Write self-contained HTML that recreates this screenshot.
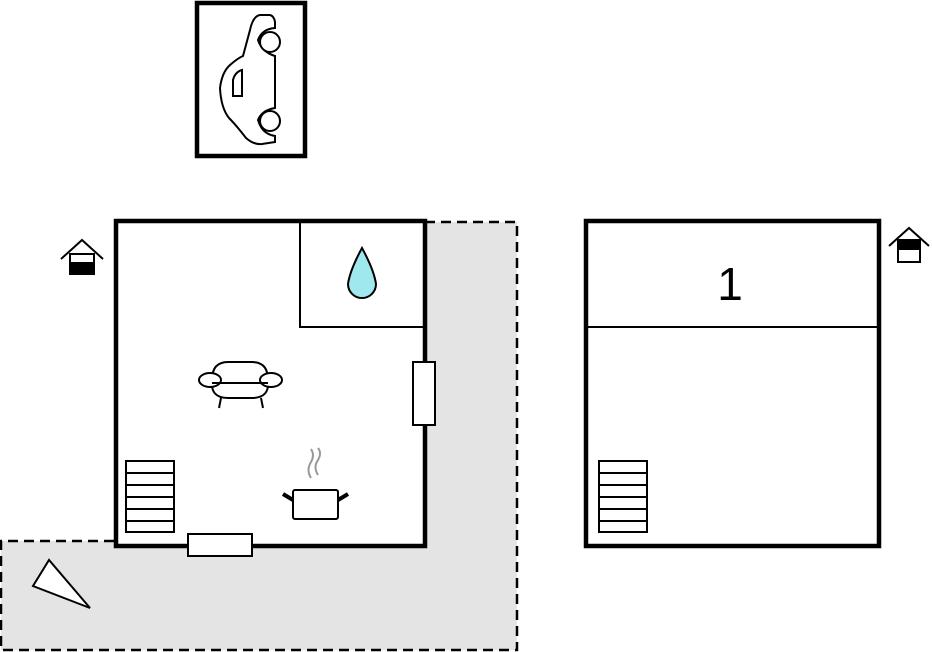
<!DOCTYPE html>
<html><head><style>body{margin:0;background:#fff}svg{display:block}</style></head><body>
<svg width="932" height="652" viewBox="0 0 932 652" xmlns="http://www.w3.org/2000/svg">
<rect width="932" height="652" fill="#fff"/>
<!-- terrace -->
<path d="M425,222 H517 V650 H1 V541 H116" fill="#e4e4e4" stroke="#000" stroke-width="2.5" stroke-dasharray="10,6"/>
<rect x="116" y="221" width="309" height="325" fill="#fff"/>
<polygon points="33,586 49,560 90,608" fill="#fff" stroke="#000" stroke-width="2"/>
<!-- car -->
<rect x="197" y="3" width="108" height="153" fill="#fff" stroke="#000" stroke-width="4.5"/>
<path d="M260,15 H270 Q274,16 275,22 V28 Q262,29 258,40 Q262,52 275,56 V108 Q262,110 258,120 Q262,134 275,136 V142 L262,144 Q254,145 246,138 Q236,125 229,118 Q221,108 220,88 Q222,72 230,65 Q238,58 243,56 L250,30 Q253,16 260,15 Z" fill="#fff" stroke="#000" stroke-width="2"/>
<circle cx="270" cy="42" r="10" fill="#fff" stroke="#000" stroke-width="2"/>
<circle cx="270" cy="121" r="10" fill="#fff" stroke="#000" stroke-width="2"/>
<path d="M233,96 V80 Q235,72 242,70 V96 Z" fill="#fff" stroke="#000" stroke-width="2"/>
<!-- left house -->
<rect x="116" y="221" width="309" height="325" fill="none" stroke="#000" stroke-width="4.5"/>
<path d="M300,221 V327 H425" fill="none" stroke="#000" stroke-width="2"/>
<path d="M362,248 Q350,270 348,284 A14,14 0 0 0 376,284 Q374,270 362,248 Z" fill="#9ee8ee" stroke="#000" stroke-width="2"/>
<rect x="413" y="362" width="22" height="63" fill="#fff" stroke="#000" stroke-width="2"/>
<rect x="188" y="534" width="64" height="22" fill="#fff" stroke="#000" stroke-width="2"/>
<!-- stairs -->
<g fill="#fff" stroke="#000" stroke-width="2">
<rect x="126" y="461" width="48" height="71"/>
<path d="M126,473 H174 M126,485 H174 M126,497 H174 M126,509 H174 M126,521 H174"/>
</g>
<!-- sofa -->
<g fill="#fff" stroke="#000" stroke-width="2">
<path d="M212,380 Q212,362 228,362 H252 Q268,362 268,380"/>
<path d="M212,380 Q210,398 228,398 H252 Q270,398 268,380"/>
<ellipse cx="210" cy="380" rx="11" ry="7"/>
<ellipse cx="271" cy="380" rx="11" ry="7"/>
<path d="M212,383 H268 M221,398 L219,408 M261,398 L263,408"/>
</g>
<!-- pot -->
<path d="M311,478 Q306,470 311,462 Q315,455 311,449 M318,475 Q313,467 318,460 Q322,453 318,448" fill="none" stroke="#999" stroke-width="2"/>
<rect x="293" y="490" width="45" height="29" rx="2" fill="#fff" stroke="#000" stroke-width="2"/>
<path d="M293,500 L283,494 M338,500 L348,494" stroke="#000" stroke-width="4"/>
<!-- house icons -->
<g stroke="#000" stroke-width="2" fill="none">
<path d="M61,259 L82,240 L103,259"/>
<rect x="70" y="254" width="24" height="20" fill="#fff"/>
<rect x="70" y="263" width="24" height="11" fill="#000"/>
<path d="M889,246 L909,228 L929,246"/>
<rect x="898" y="240" width="22" height="22" fill="#fff"/>
<rect x="898" y="240" width="22" height="9" fill="#000"/>
</g>
<!-- right house -->
<rect x="586" y="221" width="293" height="325" fill="#fff" stroke="#000" stroke-width="4.5"/>
<path d="M586,327 H879" stroke="#000" stroke-width="2"/>
<text x="730" y="300" font-family="Liberation Sans, sans-serif" font-size="46" text-anchor="middle">1</text>
<g fill="#fff" stroke="#000" stroke-width="2">
<rect x="599" y="461" width="48" height="71"/>
<path d="M599,473 H647 M599,485 H647 M599,497 H647 M599,509 H647 M599,521 H647"/>
</g>
</svg>
</body></html>
